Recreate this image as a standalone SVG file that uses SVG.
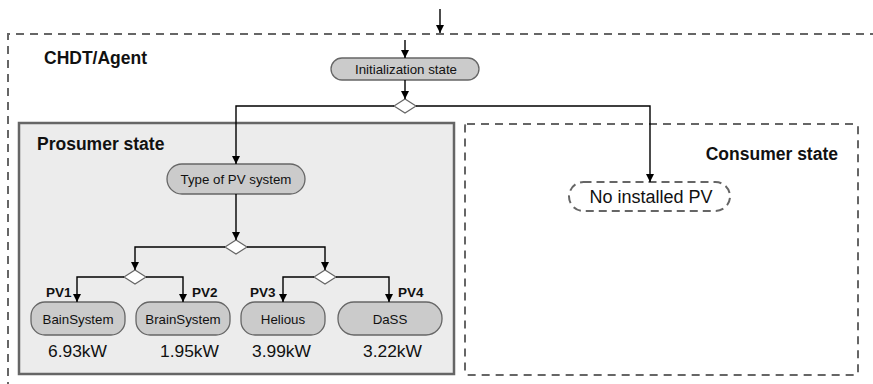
<svg xmlns="http://www.w3.org/2000/svg" width="873" height="384" viewBox="0 0 873 384">
<style>
.t{font-family:"Liberation Sans",Arial,sans-serif;fill:#111}
.h{font-weight:bold;font-size:17.5px}
.pv{font-weight:bold;font-size:13.5px}
.pill{fill:#cbcbcb;stroke:#666;stroke-width:1.3}
.n{font-size:13.3px;text-anchor:middle}
.kw{font-size:17.4px}
.c{fill:none;stroke:#000;stroke-width:1.4}
.d{fill:#fff;stroke:#666;stroke-width:1.2}
.dash{fill:none;stroke:#666;stroke-width:2;stroke-dasharray:8 6}
</style>
<defs>
<marker id="a" viewBox="0 0 8 10" refX="8" refY="5" markerWidth="8" markerHeight="10" markerUnits="userSpaceOnUse" orient="auto">
<path d="M0,1 L8,5 L0,9 z" fill="#000"/>
</marker>
</defs>
<rect width="873" height="384" fill="#fff"/>
<g id="agent">
<path class="dash" d="M8,390 L8,34 L880,34"/>
<text class="t h" x="44" y="64">CHDT/Agent</text>
</g>
<g id="prosumer">
<rect x="19" y="123" width="435" height="251" fill="#ececec" stroke="#666" stroke-width="2.5"/>
<text class="t h" x="37" y="150">Prosumer state</text>
</g>
<g id="consumer">
<rect x="465" y="124" width="393" height="251" rx="2" class="dash"/>
<text class="t h" x="838" y="160" text-anchor="end">Consumer state</text>
</g>
<g id="init">
<rect class="pill" x="331" y="58" width="148" height="22" rx="11"/>
<text class="t n" x="406" y="74">Initialization state</text>
</g>
<g id="d1"><path class="d" d="M394,106 L405,99 L416,106 L405,113 z"/></g>
<g id="type">
<rect class="pill" x="167" y="164" width="138" height="30" rx="15"/>
<text class="t n" x="236" y="184">Type of PV system</text>
</g>
<g id="d2"><path class="d" d="M225,247 L236,240 L247,247 L236,254 z"/></g>
<g id="d3"><path class="d" d="M124,277 L135,270 L146,277 L135,284 z"/></g>
<g id="d4"><path class="d" d="M314,277 L325,270 L336,277 L325,284 z"/></g>
<g id="nopv">
<rect x="569" y="182" width="161" height="29" rx="14.5" fill="#fff" stroke="#666" stroke-width="2" stroke-dasharray="8 5"/>
<text class="t" x="651" y="203" font-size="18" text-anchor="middle">No installed PV</text>
</g>
<g id="pv1">
<rect class="pill" x="31" y="302" width="94" height="33" rx="14"/>
<text class="t n" x="78" y="324">BainSystem</text>
<text class="t pv" x="46" y="297">PV1</text>
<text class="t kw" x="48" y="357">6.93kW</text>
</g>
<g id="pv2">
<rect class="pill" x="136" y="302" width="94" height="33" rx="14"/>
<text class="t n" x="183" y="324">BrainSystem</text>
<text class="t pv" x="192" y="297">PV2</text>
<text class="t kw" x="160" y="357">1.95kW</text>
</g>
<g id="pv3">
<rect class="pill" x="241" y="302" width="84" height="33" rx="14"/>
<text class="t n" x="283" y="324">Helious</text>
<text class="t pv" x="250" y="297">PV3</text>
<text class="t kw" x="252" y="357">3.99kW</text>
</g>
<g id="pv4">
<rect class="pill" x="338" y="302" width="104" height="33" rx="16"/>
<text class="t n" x="390" y="324">DaSS</text>
<text class="t pv" x="398" y="297">PV4</text>
<text class="t kw" x="363" y="357">3.22kW</text>
</g>
<g id="connectors">
<path class="c" d="M440,9 L440,33" marker-end="url(#a)"/>
<path class="c" d="M405,40 L405,58" marker-end="url(#a)"/>
<path class="c" d="M405,80 L405,99" marker-end="url(#a)"/>
<path class="c" d="M394,106 L236,106 L236,164" marker-end="url(#a)"/>
<path class="c" d="M416,106 L650,106 L650,182" marker-end="url(#a)"/>
<path class="c" d="M236,194 L236,240" marker-end="url(#a)"/>
<path class="c" d="M225,247 L135,247 L135,270" marker-end="url(#a)"/>
<path class="c" d="M247,247 L325,247 L325,270" marker-end="url(#a)"/>
<path class="c" d="M124,277 L77,277 L77,302" marker-end="url(#a)"/>
<path class="c" d="M146,277 L183,277 L183,302" marker-end="url(#a)"/>
<path class="c" d="M314,277 L283,277 L283,302" marker-end="url(#a)"/>
<path class="c" d="M336,277 L389,277 L389,302" marker-end="url(#a)"/>
</g>
</svg>
